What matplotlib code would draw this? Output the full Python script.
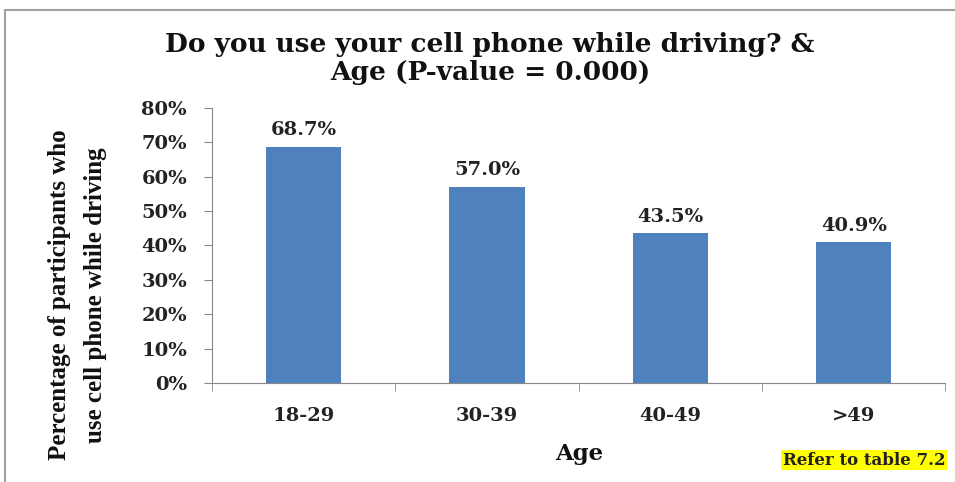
import numpy as np
import matplotlib.pyplot as plt
from matplotlib.patches import Rectangle
from matplotlib.ticker import FixedLocator

ages = ['18-29', '30-39', '40-49', '>49']
pct = [68.7, 57.0, 43.5, 40.9]
yticks = [0, 10, 20, 30, 40, 50, 60, 70, 80]

fig = plt.figure(figsize=(9.55, 4.82), dpi=100)
ax = fig.add_axes([0.222, 0.2054, 0.768, 0.5706])

# outer chart border
fig.patches.append(Rectangle((5/955, -0.2), 1.2, 1.2 - 10/482, transform=fig.transFigure,
                             fill=False, edgecolor='#a0a0a0', linewidth=1.5))

x = np.arange(len(ages))
ax.bar(x, pct, width=0.41, color='#4f81bd')
for xi, v in zip(x, pct):
    ax.text(xi, v + 2.2, f'{v:.1f}%', ha='center', va='bottom',
            fontsize=14, fontweight='bold', family='DejaVu Serif', color='#222222')

ax.set_xlim(-0.5, len(ages) - 0.5)
ax.set_ylim(0, 80)
ax.set_yticks(yticks)
ax.set_yticklabels([f'{t}%' for t in yticks], fontsize=14, fontweight='bold',
                   family='DejaVu Serif', color='#222222')
ax.set_xticks(x)
ax.set_xticklabels(ages, fontsize=14, fontweight='bold', family='DejaVu Serif',
                   color='#222222')
ax.tick_params(axis='x', length=0, pad=17)
ax.xaxis.set_minor_locator(FixedLocator(np.arange(-0.5, len(ages), 1.0)))
ax.tick_params(axis='x', which='minor', length=6, color='#888888')
ax.tick_params(axis='y', length=6, color='#888888', pad=12)
for s in ['top', 'right']:
    ax.spines[s].set_visible(False)
for s in ['left', 'bottom']:
    ax.spines[s].set_color('#888888')

fig.text(0.513, 0.878, 'Do you use your cell phone while driving? &\nAge (P-value = 0.000)',
         ha='center', va='center', fontsize=19, fontweight='bold',
         family='DejaVu Serif', linespacing=1.15, color='#111111')
fig.text(0.607, 0.058, 'Age', ha='center', va='center', fontsize=16.5,
         fontweight='bold', family='DejaVu Serif', color='#111111')
fig.text(0.081, 0.388, 'Percentage of participants who\nuse cell phone while driving',
         ha='center', va='center', rotation=90, fontsize=18, fontweight='bold',
         family='Liberation Serif', linespacing=1.75, color='#111111')
fig.text(0.99, 0.045, 'Refer to table 7.2', ha='right', va='center', fontsize=12,
         fontweight='bold', family='DejaVu Serif', color='#222222',
         bbox=dict(facecolor='yellow', edgecolor='none', pad=1))

fig.savefig('out.png', dpi=100)
